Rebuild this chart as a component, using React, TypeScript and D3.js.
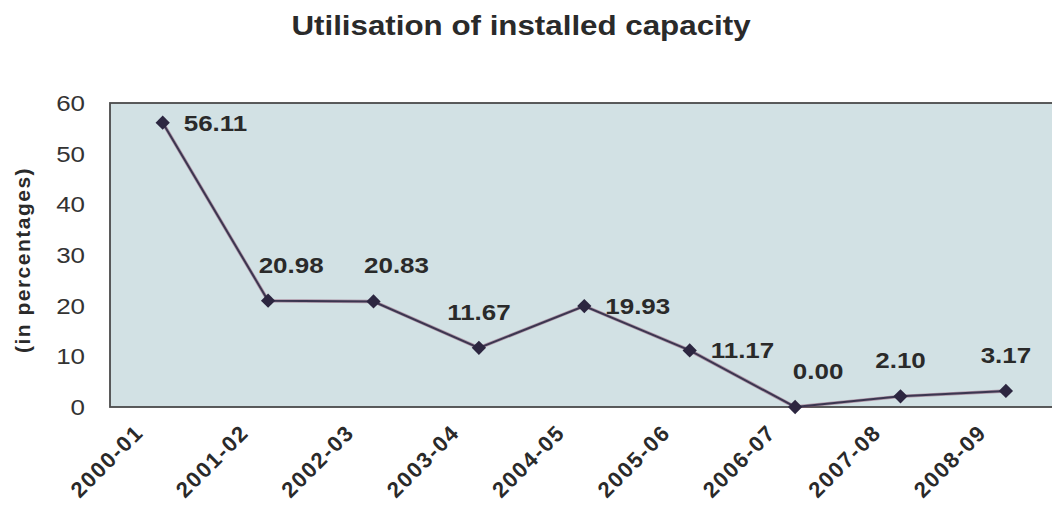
import { useEffect, useRef } from "react";
import * as d3 from "d3";

const YEARS = [
  "2000-01",
  "2001-02",
  "2002-03",
  "2003-04",
  "2004-05",
  "2005-06",
  "2006-07",
  "2007-08",
  "2008-09",
];
const UTILISATION = [56.11, 20.98, 20.83, 11.67, 19.93, 11.17, 0.0, 2.1, 3.17];
// where each value label sits relative to its marker
const LABEL_SIDE = ["right", "above-right", "above-right", "above", "right", "right", "above-right", "above", "above"];
const Y_TICKS = [0, 10, 20, 30, 40, 50, 60];

const W = 1052;
const H = 510;
const FONT = "'Liberation Sans', Arial, Helvetica, sans-serif";
const INK = "#2a2a2a";
const STRETCH = 1.18; // the scanned original is a bit wide

export default function App() {
  const svgRef = useRef<SVGSVGElement>(null);

  useEffect(() => {
    const svg = d3.select(svgRef.current);
    svg.selectAll("*").remove();

    const m = { top: 103, left: 110, bottom: 407 };
    const x = d3.scaleBand().domain(YEARS).range([m.left, m.left + 105.4 * YEARS.length]);
    const y = d3.scaleLinear().domain([0, 60]).range([m.bottom, m.top]);
    const cx = (d: string) => (x(d) ?? 0) + x.bandwidth() / 2;

    // title
    svg
      .append("text")
      .attr("transform", `translate(521,35) scale(1.16,1)`)
      .attr("text-anchor", "middle")
      .attr("font-family", FONT)
      .attr("font-weight", "bold")
      .attr("font-size", 27)
      .attr("fill", INK)
      .text("Utilisation of installed capacity");

    // plot background + frame
    svg
      .append("rect")
      .attr("x", m.left)
      .attr("y", m.top)
      .attr("width", W - m.left + 10)
      .attr("height", m.bottom - m.top)
      .attr("fill", "#d2e1e4")
      .attr("stroke", "#4a4a4a")
      .attr("stroke-width", 1.8);

    // y tick labels
    svg
      .append("g")
      .selectAll("text")
      .data(Y_TICKS)
      .join("text")
      .attr("transform", (d) => `translate(${m.left - 25},${y(d) + 8}) scale(${STRETCH},1)`)
      .attr("text-anchor", "end")
      .attr("font-family", FONT)
      .attr("font-size", 22)
      .attr("fill", "#333")
      .text((d) => d);

    svg
      .append("text")
      .attr("transform", `translate(30,260) rotate(-90)`)
      .attr("text-anchor", "middle")
      .attr("font-family", FONT)
      .attr("font-weight", "bold")
      .attr("font-size", 21)
      .attr("letter-spacing", 1.5)
      .attr("fill", INK)
      .text("(in percentages)");

    // x axis labels
    const xa = svg
      .append("g")
      .attr("transform", `translate(0,${m.bottom})`)
      .call(d3.axisBottom(x).tickSize(0).tickPadding(0));
    xa.select(".domain").remove();
    xa.selectAll<SVGTextElement, string>("text")
      .attr("font-family", FONT)
      .attr("font-size", 22)
      .attr("font-weight", "bold")
      .attr("letter-spacing", 1.6)
      .attr("fill", INK)
      .attr("text-anchor", "end")
      .attr("dy", 0)
      .attr("transform", "translate(-18,27) rotate(-45)");

    // line
    const line = d3
      .line<number>()
      .x((_, i) => cx(YEARS[i]))
      .y((d) => y(d));
    svg
      .append("path")
      .datum(UTILISATION)
      .attr("d", line)
      .attr("fill", "none")
      .attr("stroke", "#8a4a6a")
      .attr("stroke-width", 3.4)
      .attr("opacity", 0.5);
    svg
      .append("path")
      .datum(UTILISATION)
      .attr("d", line)
      .attr("fill", "none")
      .attr("stroke", "#3b3650")
      .attr("stroke-width", 2);

    // diamond markers
    const diamond = d3.symbol(d3.symbolDiamond2, 130);
    svg
      .append("g")
      .selectAll("path")
      .data(UTILISATION)
      .join("path")
      .attr("d", diamond)
      .attr("transform", (d, i) => `translate(${cx(YEARS[i])},${y(d)})`)
      .attr("fill", "#2c2640");

    // value labels
    const dx = (s: string) => (s === "right" ? 21 : s === "above-right" ? 23 : 0);
    const dy = (s: string) => (s === "right" ? 8 : -28);
    svg
      .append("g")
      .selectAll("text")
      .data(UTILISATION)
      .join("text")
      .attr(
        "transform",
        (d, i) =>
          `translate(${cx(YEARS[i]) + dx(LABEL_SIDE[i])},${y(d) + dy(LABEL_SIDE[i])}) scale(${STRETCH},1)`,
      )
      .attr("text-anchor", (_, i) => (LABEL_SIDE[i] === "right" ? "start" : "middle"))
      .attr("font-family", FONT)
      .attr("font-weight", "bold")
      .attr("font-size", 22)
      .attr("fill", INK)
      .text((d) => d.toFixed(2));
  }, []);

  return (
    <div style={{ position: "absolute", left: 0, top: 0 }}>
      <svg ref={svgRef} width={W} height={H} style={{ display: "block", background: "#fff" }} />
    </div>
  );
}
